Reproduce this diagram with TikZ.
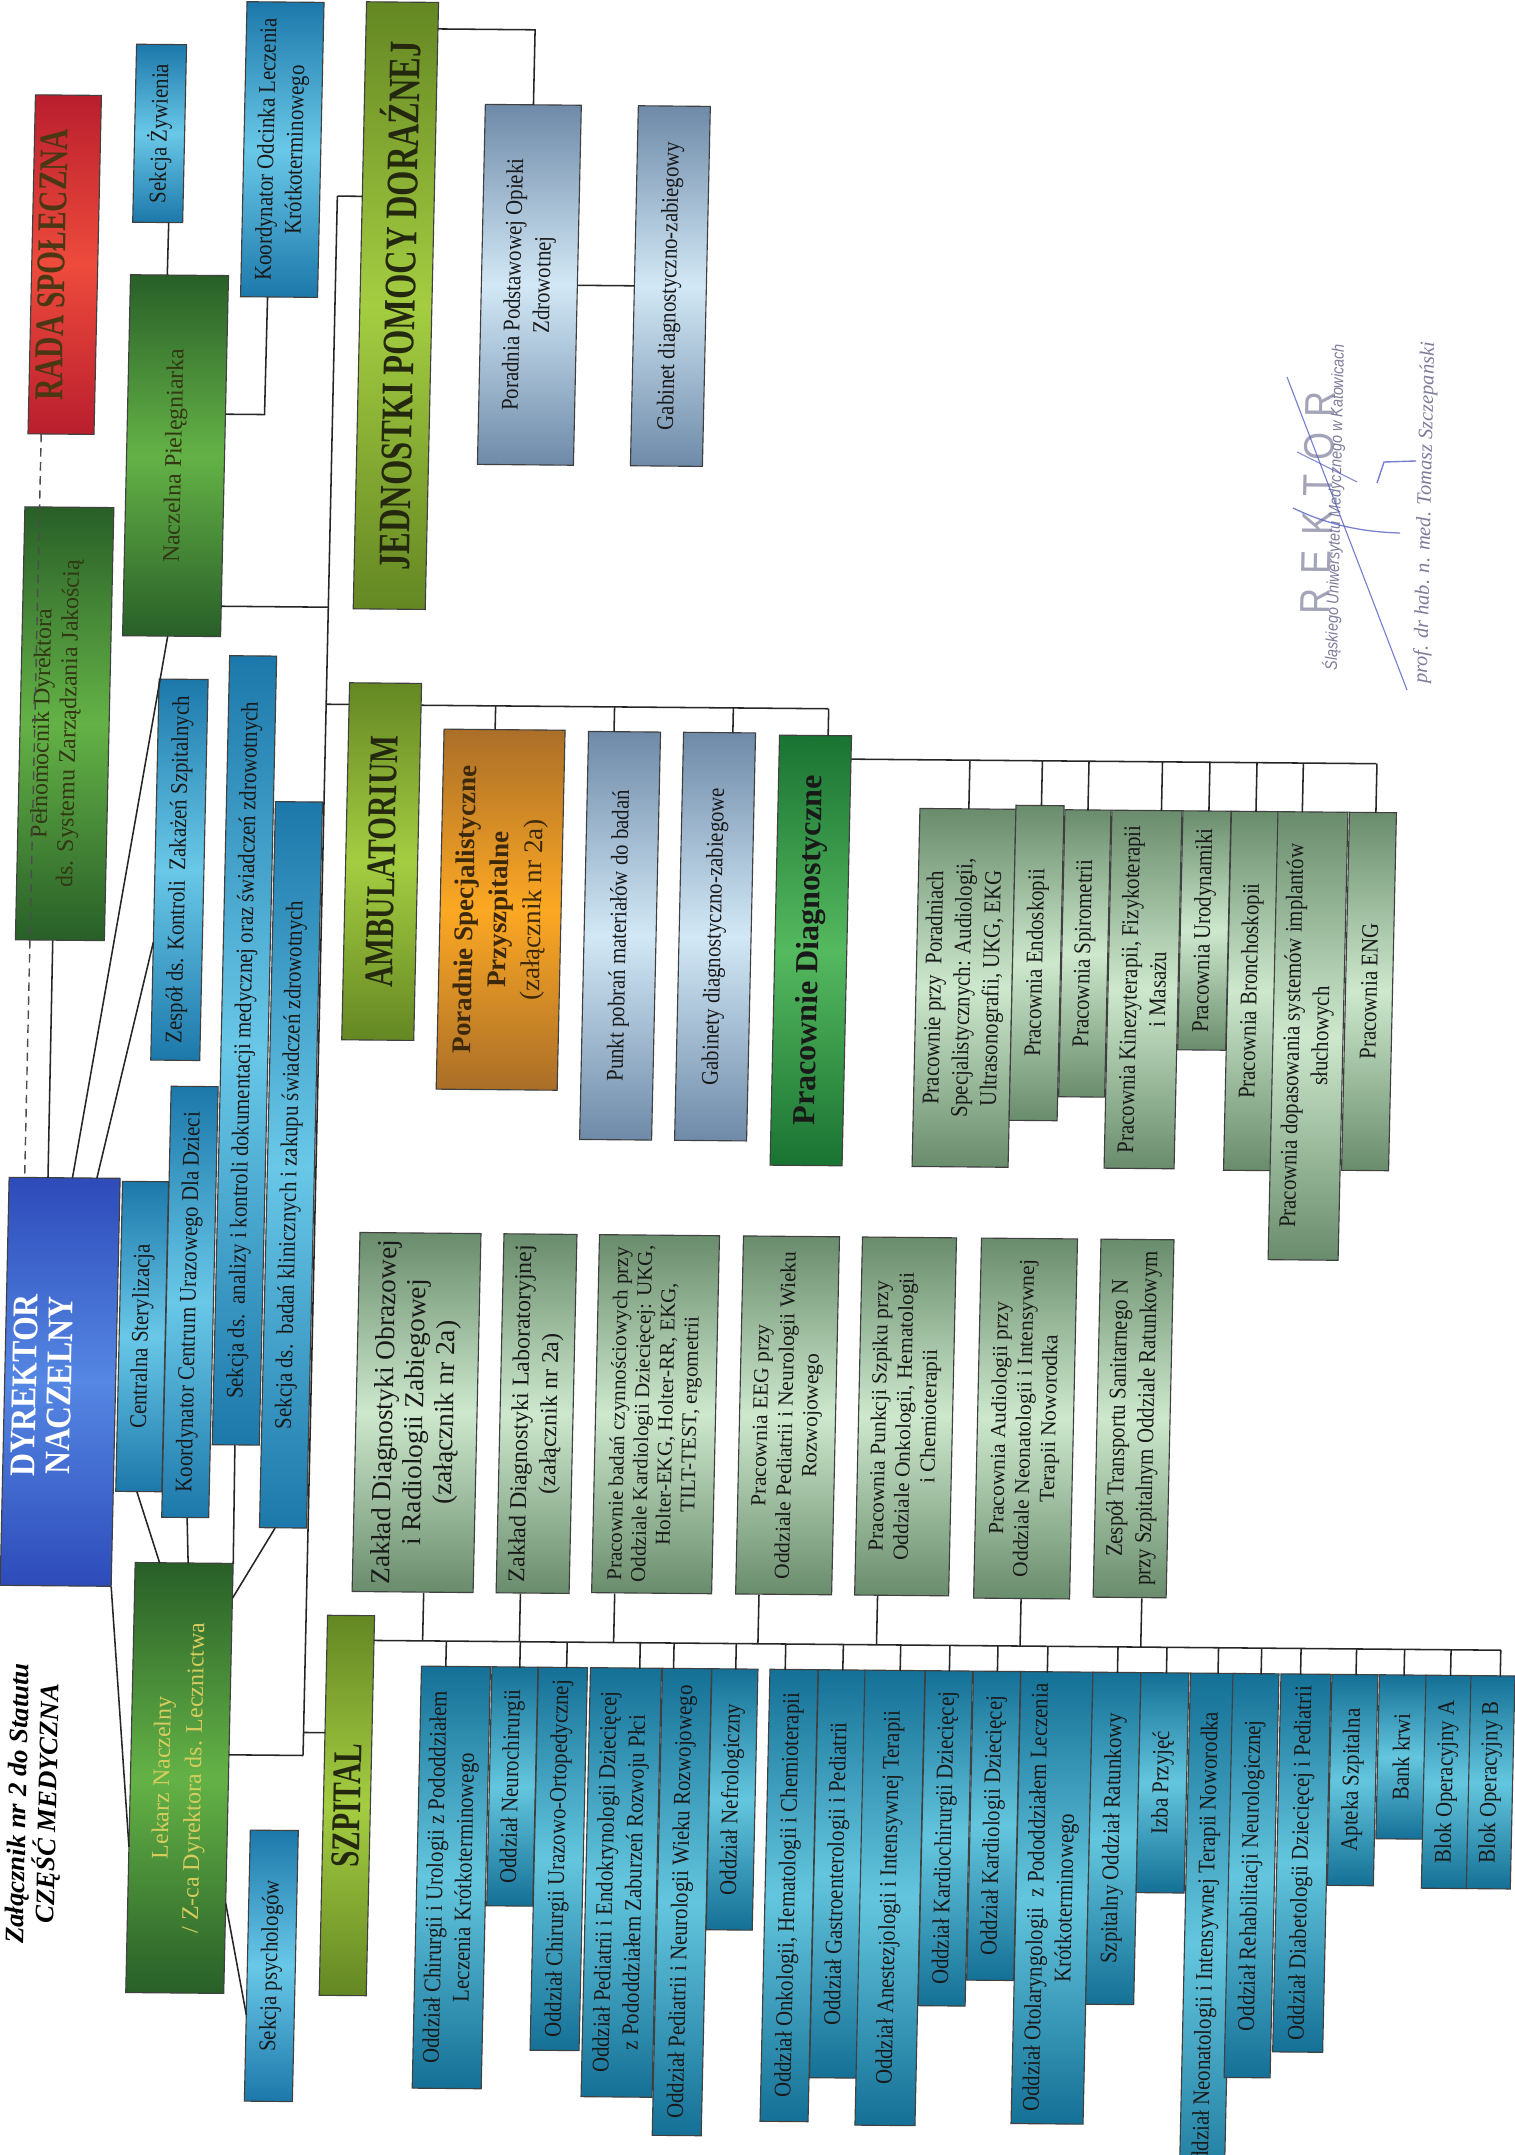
\documentclass[tikz,border=0pt]{standalone}
\usepackage{fontspec}
\setmainfont{Liberation Serif}
\newfontfamily\nrw[FakeStretch=0.87]{Liberation Serif}
\newfontfamily\hdf[FakeStretch=0.72]{Liberation Serif}
\newfontfamily\dyf[FakeStretch=0.88]{Liberation Serif}
\newfontfamily\stf[FakeStretch=0.85]{Liberation Sans}
\usetikzlibrary{calc}

\definecolor{blE}{RGB}{20,112,150}
\definecolor{blM}{RGB}{100,198,222}
\definecolor{ubE}{RGB}{28,120,170}
\definecolor{ubM}{RGB}{105,200,232}
\definecolor{lbE}{RGB}{110,138,168}
\definecolor{lbM}{RGB}{210,232,246}
\definecolor{pgE}{RGB}{105,140,108}
\definecolor{pgM}{RGB}{205,232,205}
\definecolor{grE}{RGB}{40,95,40}
\definecolor{grM}{RGB}{100,178,70}
\definecolor{olE}{RGB}{100,135,35}
\definecolor{olM}{RGB}{165,205,65}
\definecolor{pdE}{RGB}{25,115,50}
\definecolor{pdM}{RGB}{85,185,95}
\definecolor{orE}{RGB}{170,110,40}
\definecolor{orM}{RGB}{252,168,35}
\definecolor{rdE}{RGB}{185,30,45}
\definecolor{rdM}{RGB}{238,75,60}
\definecolor{dyE}{RGB}{45,75,185}
\definecolor{dyM}{RGB}{85,135,228}
\definecolor{txD}{RGB}{25,25,25}
\definecolor{txO}{RGB}{50,55,20}
\definecolor{txL}{RGB}{215,205,95}
\definecolor{txH}{RGB}{35,40,15}
\definecolor{txR}{RGB}{75,55,20}
\definecolor{txB}{RGB}{60,40,10}
\definecolor{stampc}{RGB}{125,125,155}
\definecolor{sigc}{RGB}{85,95,195}

\newcommand\fsn{\fontsize{17}{20.5}\selectfont}
\newcommand\fss{\fontsize{15.3}{17.8}\selectfont}
\newcommand\fsh{\fontsize{29}{32}\selectfont}

\begin{document}
\begin{tikzpicture}[x=0.025cm, y=-0.025cm,
  bx/.style 2 args={minimum width=#2*0.025cm, minimum height=#1*0.025cm},
  base/.style={rotate=90, transform shape, draw=black!75, line width=0.8pt,
    inner sep=0pt, outer sep=0pt, align=center, text=txD},
  shd/.style 2 args={top color=#1, bottom color=#1, middle color=#2},
  blu/.style={base, shd={blE}{blM}, font=\nrw\fsn},
  ublu/.style={base, shd={ubE}{ubM}, font=\nrw\fsn},
  lblu/.style={base, shd={lbE}{lbM}, font=\nrw\fontsize{17}{21}\selectfont},
  pgrn/.style={base, shd={pgE}{pgM}, font=\fsn},
  pgrnN/.style={base, shd={pgE}{pgM}, font=\nrw\fsn},
  grn/.style={base, shd={grE}{grM}, font=\fsn, text=txO},
  oli/.style={base, shd={olE}{olM}, font=\hdf\bfseries\fsh, text=txH},
  plain/.style={rotate=90, transform shape, align=center, inner sep=0pt},
  conn/.style={draw=black!85, line width=1.1pt},
  dashline/.style={draw=black!70, line width=1pt, dash pattern=on 6pt off 4pt}
]
\useasboundingbox (0,0) rectangle (1514,2155);
\fill[white] (0,0) rectangle (1514,2155);

\begin{scope}[cm={1,-0.009,0.022,1,(0.592cm,0.170cm)}]
% ---------- upper part ----------
\node[base, shd={rdE}{rdM}, bx={66}{339}] (rada) at (47,271) {};
\node[plain, font=\hdf\bfseries\fsh, text=txR] (radat) at (34,271) {RADA SPOŁECZNA};
\node[ublu, bx={50}{178}] (zyw) at (139,139) {Sekcja Żywienia};
\node[ublu, bx={77}{295}] (kod) at (262,154) {Koordynator Odcinka Leczenia\\Krótkoterminowego};
\node[oli, bx={72}{607}, font=\hdf\bfseries\fontsize{32}{34}\selectfont] (jed) at (379,309) {JEDNOSTKI POMOCY DORAŹNEJ};
\node[grn, bx={98}{361}] (nacz) at (162,461) {Naczelna Pielęgniarka};
\node[grn, bx={89}{433}] (pel) at (57,730) {};
\node[plain, font=\fontsize{17}{19}\selectfont, text=txO] (pelt) at (49,730) {Pełnomocnik Dyrektora\\ds. Systemu Zarządzania Jakością};
\node[lblu, bx={96}{360}] (por) at (512,287) {Poradnia Podstawowej Opieki\\Zdrowotnej};
\node[lblu, bx={72}{360}] (gab) at (653,287) {Gabinet diagnostyczno-zabiegowy};

% ---------- director cluster ----------
\node[base, shd={dyE}{dyM}, bx={111}{408}] (dyr) at (67,1388) {};
\node[plain, text=white, font=\dyf\bfseries\fontsize{25.6}{25}\selectfont] (dyrt) at (49,1392) {DYREKTOR\\NACZELNY};
\node[ublu, bx={46}{310}] (cst) at (148,1342) {Centralna Sterylizacja};
\node[ublu, bx={47}{431}] (kcu) at (195,1307) {Koordynator Centrum Urazowego Dla Dzieci};
\node[ublu, bx={49}{381}] (zes) at (175,875) {Zespół ds. Kontroli\ \ Zakażeń Szpitalnych};
\node[ublu, bx={47}{789}] (san) at (244,1055) {Sekcja ds.\ \ analizy i kontroli dokumentacji medycznej oraz świadczeń zdrowotnych};
\node[ublu, bx={47}{726}] (sbk) at (293,1169) {Sekcja ds.\ \ badań klinicznych i zakupu świadczeń zdrowotnych};
\node[grn, bx={98}{430}, text=txL, font=\fontsize{17}{22.5}\selectfont] (lek) at (195,1783) {Lekarz Naczelny\\/ Z-ca Dyrektora ds. Lecznictwa};
\node[ublu, bx={48}{271}] (psy) at (291,1970) {Sekcja psychologów};
\node[plain, font=\bfseries\itshape\fontsize{19}{21.5}\selectfont] (title) at (51,1810) {Załącznik nr 2 do Statutu\\CZĘŚĆ MEDYCZNA};

% ---------- ambulatorium ----------
\node[oli, bx={72}{357}] (amb) at (377,865) {AMBULATORIUM};
\node[base, shd={orE}{orM}, bx={121}{360}, text=txB, font=\bfseries\fontsize{19.2}{24}\selectfont] (pss) at (497,912) {Poradnie Specjalistyczne\\Przyszpitalne\\{\mdseries (załącznik nr 2a)}};
\node[lblu, bx={72}{408}] (pkt) at (617,937) {Punkt pobrań materiałów do badań};
\node[lblu, bx={72}{408}] (gbs) at (712,937) {Gabinety diagnostyczno-zabiegowe};
\node[base, shd={pdE}{pdM}, bx={72}{430}, font=\bfseries\fontsize{22.8}{25}\selectfont] (prd) at (808,950) {Pracownie Diagnostyczne};

\node[pgrnN, bx={96}{358}, anchor=east] (p1) at (962,807) {Pracownie przy\ \ Poradniach\\Specjalistycznych: Audiologii,\\Ultrasonografii, UKG, EKG};
\node[pgrnN, bx={48}{315}, anchor=east] (p2) at (1034,803) {Pracownia Endoskopii};
\node[pgrnN, bx={46}{287}, anchor=east] (p3) at (1082,807) {Pracownia Spirometrii};
\node[pgrnN, bx={70}{358}, anchor=east] (p4) at (1141,807) {Pracownia Kinezyterapii, Fizykoterapii\\i Masażu};
\node[pgrnN, bx={48}{239}, anchor=east] (p5) at (1201,807) {Pracownia Urodynamiki};
\node[pgrnN, bx={47}{359}, anchor=east] (p6) at (1249,807) {Pracownia Bronchoskopii};
\node[pgrnN, bx={70}{448}, anchor=east] (p7) at (1307,807) {Pracownia dopasowania systemów implantów\\słuchowych};
\node[pgrnN, bx={47}{358}, anchor=east] (p8) at (1367,807) {Pracownia ENG};

% ---------- szpital ----------
\node[oli, bx={47}{380}] (szp) at (363,1809) {SZPITAL};
\node[pgrn, bx={121}{359}, anchor=east, font=\fontsize{19.5}{21.5}\selectfont] (g1) at (424,1236) {Zakład Diagnostyki Obrazowej\\i Radiologii Zabiegowej\\(załącznik nr 2a)};
\node[pgrn, bx={73}{359}, anchor=east] (g2) at (544,1236) {Zakład Diagnostyki Laboratoryjnej\\(załącznik nr 2a)};
\node[pgrn, bx={120}{358}, anchor=east, font=\fontsize{15}{17}\selectfont] (g3) at (663,1236) {Pracownie badań czynnościowych przy\\Oddziale Kardiologii Dziecięcej: UKG,\\Holter-EKG, Holter-RR, EKG,\\TILT-TEST, ergometrii};
\node[pgrn, bx={96}{358}, anchor=east, font=\fss] (g4) at (795,1236) {Pracownia EEG przy\\Oddziale Pediatrii i Neurologii Wieku\\Rozwojowego};
\node[pgrn, bx={94}{358}, anchor=east, font=\fss] (g5) at (913,1236) {Pracownia Punkcji Szpiku przy\\Oddziale Onkologii, Hematologii\\i Chemioterapii};
\node[pgrn, bx={96}{360}, anchor=east, font=\fss] (g6) at (1033,1236) {Pracownia Audiologii przy\\Oddziale Neonatologii i Intensywnej\\Terapii Noworodka};
\node[pgrnN, bx={73}{358}, anchor=east] (g7) at (1141,1236) {Zespół Transportu Sanitarnego N\\przy Szpitalnym Oddziale Ratunkowym};

\node[blu, bx={69}{422}, anchor=east] (b1) at (469,1669) {Oddział Chirurgii i Urologii z Pododdziałem\\Leczenia Krótkoterminowego};
\node[blu, bx={46}{239}, anchor=east] (b2) at (528,1669) {Oddział Neurochirurgii};
\node[blu, bx={49}{383}, anchor=east] (b3) at (576,1669) {Oddział Chirurgii Urazowo-Ortopedycznej};
\node[blu, bx={71}{429}, anchor=east] (b4) at (639,1669) {Oddział Pediatrii i Endokrynologii Dziecięcej\\z Pododdziałem Zaburzeń Rozwoju Płci};
\node[blu, bx={49}{467}, anchor=east] (b5) at (700,1669) {Oddział Pediatrii i Neurologii Wieku Rozwojowego};
\node[blu, bx={46}{261}, anchor=east] (b6) at (748,1669) {Oddział Nefrologiczny};
\node[blu, bx={48}{452}, anchor=east] (b7) at (807,1669) {Oddział Onkologii, Hematologii i Chemioterapii};
\node[blu, bx={47}{408}, anchor=east] (b8) at (855,1669) {Oddział Gastroenterologii i Pediatrii};
\node[blu, bx={60}{455}, anchor=east] (b9) at (908,1669) {Oddział Anestezjologii i Intensywnej Terapii};
\node[blu, bx={47}{335}, anchor=east] (b10) at (962,1669) {Oddział Kardiochirurgii Dziecięcej};
\node[blu, bx={47}{309}, anchor=east] (b11) at (1010,1669) {Oddział Kardiologii Dziecięcej};
\node[blu, bx={72}{452}, anchor=east] (b12) at (1070,1669) {Oddział Otolaryngologii\ \ z Pododdziałem Leczenia\\Krótkoterminowego};
\node[blu, bx={48}{332}, anchor=east] (b13) at (1130,1669) {Szpitalny Oddział Ratunkowy};
\node[blu, bx={48}{220}, anchor=east] (b14) at (1178,1669) {Izba Przyjęć};
\node[blu, bx={45}{542}, anchor=east] (b15) at (1226,1669) {Oddział Neonatologii i Intensywnej Terapii Noworodka};
\node[blu, bx={46}{404}, anchor=east] (b16) at (1269,1669) {Oddział Rehabilitacji Neurologicznej};
\node[blu, bx={50}{378}, anchor=east] (b17) at (1319,1669) {Oddział Diabetologii Dziecięcej i Pediatrii};
\node[blu, bx={46}{211}, anchor=east] (b18) at (1368,1669) {Apteka Szpitalna};
\node[blu, bx={47}{164}, anchor=east] (b19) at (1416,1669) {Bank krwi};
\node[blu, bx={46}{213}, anchor=east] (b20) at (1462,1669) {Blok Operacyjny A};
\node[blu, bx={44}{213}, anchor=east] (b21) at (1506,1669) {Blok Operacyjny B};

% ---------- stamp ----------
\node[plain, text=stampc!70, font=\stf\fontsize{30}{32}\selectfont] (rek) at (1305,498) {R\hspace{0.35em}E\hspace{0.35em}K\hspace{0.35em}T\hspace{0.35em}O\hspace{0.35em}R};
\node[plain, text=stampc, font=\stf\itshape\fontsize{12}{14}\selectfont] (uni) at (1322,502) {Śląskiego Uniwersytetu Medycznego w Katowicach};
\node[plain, text=stampc, font=\itshape\fontsize{14.5}{16}\selectfont] (prof) at (1413,507) {prof. dr hab. n. med. Tomasz Szczepański};

% ---------- connectors ----------
\coordinate (tTop) at (318,200);
\coordinate (tN) at (318,611);
\coordinate (tA) at (318,708);
\coordinate (tS) at (318,1736);
\coordinate (tBot) at (318,1759);
\draw[conn] (tTop) -- (tBot);
\draw[conn] (tTop) -- ($(jed.north west)!(tTop)!(jed.north east)$);
\draw[conn] (tN) -- ($(nacz.south west)!(tN)!(nacz.south east)$);
\draw[conn] (tA) -- ($(amb.north west)!(tA)!(amb.north east)$);
\draw[conn] (tS) -- ($(szp.north west)!(tS)!(szp.north east)$);
\draw[conn] (tBot) -- ($(lek.south west)!(tBot)!(lek.south east)$);

\coordinate (jp) at (512,32);
\draw[conn] ($(jed.south west)!(jp)!(jed.south east)$) -- (jp) -- (por.east);
\draw[conn] (por.south) -- (gab.north);

\coordinate (kc) at (250,419);
\draw[conn] ($(kod.north west)!0.35!(kod.south west)$) -- (kc) -- ($(nacz.south west)!(kc)!(nacz.south east)$);
\draw[conn] ($(zyw.north west)!0.72!(zyw.south west)$) -- ($(nacz.north east)!0.375!(nacz.south east)$);

\draw[dashline] ($(rada.north west)!0.2!(rada.south west)$) -- ($(dyr.north east)!0.14!(dyr.south east)$);
\draw[conn] ($(pel.north west)!0.42!(pel.south west)$) -- ($(dyr.north east)!0.35!(dyr.south east)$);
\draw[conn] ($(dyr.north east)!0.57!(dyr.south east)$) -- ($(nacz.north west)!0.46!(nacz.south west)$);
\draw[conn] ($(dyr.north east)!0.79!(dyr.south east)$) -- ($(zes.north west)!0.31!(zes.north east)$);
\draw[conn] (dyr.south west) -- ($(lek.north west)!0.34!(lek.north east)$);
\draw[conn] ($(cst.north west)!0.46!(cst.south west)$) -- ($(lek.north east)!0.25!(lek.south east)$);
\draw[conn] ($(kcu.north west)!0.54!(kcu.south west)$) -- ($(lek.north east)!0.54!(lek.south east)$);
\draw[conn] ($(san.north west)!0.48!(san.south west)$) -- (lek.south east);
\draw[conn] ($(sbk.north west)!0.33!(sbk.south west)$) -- ($(lek.south west)!0.92!(lek.south east)$);
\draw[conn] ($(lek.south west)!0.21!(lek.south east)$) -- ($(psy.north west)!0.32!(psy.north east)$);

\coordinate (ambR) at (820,708);
\coordinate (ambL) at ($(amb.south west)!(ambR)!(amb.south east)$);
\draw[conn] (ambL) -- (ambR);
\foreach \nd/\fr in {pss/0.42,pkt/0.35,gbs/0.68,prd/0.67}{
  \coordinate (tmp) at ($(\nd.north east)!\fr!(\nd.south east)$);
  \draw[conn] (tmp) -- ($(ambL)!(tmp)!(ambR)$);
}

\coordinate (prR) at (1369,758);
\coordinate (prL) at ($(prd.south west)!(prR)!(prd.south east)$);
\draw[conn] (prL) -- (prR);
\foreach \nd/\fr in {p1/0.505,p2/0.52,p3/0.49,p4/0.7,p5/0.53,p6/0.51,p7/0.34,p8/0.55}{
  \coordinate (tmp) at ($(\nd.north east)!\fr!(\nd.south east)$);
  \draw[conn] (tmp) -- ($(prL)!(tmp)!(prR)$);
}

\coordinate (busR) at (1513,1643);
\coordinate (busL) at ($(szp.south west)!(busR)!(szp.south east)$);
\draw[conn] (busL) -- (busR);
\foreach \nd/\fr in {g1/0.59,g2/0.33,g3/0.19,g4/0.24,g5/0.24,g6/0.49,g7/0.66}{
  \coordinate (tmp) at ($(\nd.north west)!\fr!(\nd.south west)$);
  \draw[conn] (tmp) -- ($(busL)!(tmp)!(busR)$);
}
\foreach \nd/\fr in {b1/0.35,b2/0.6,b3/0.57,b4/0.69,b5/0.22,b6/0.51,b7/0.31,b8/0.51,b9/0.58,b10/0.5,b11/0.5,b12/0.36,b13/0.5,b14/0.52,b15/0.6,b16/0.6,b17/0.38,b18/0.51,b19/0.51,b20/0.52,b21/0.65}{
  \coordinate (tmp) at ($(\nd.north east)!\fr!(\nd.south east)$);
  \draw[conn] (tmp) -- ($(busL)!(tmp)!(busR)$);
}
\end{scope}

% ---------- signature strokes (raw page coordinates) ----------
\draw[sigc, line width=0.8pt, opacity=0.8] (1287,377) -- (1407,690);
\draw[sigc, line width=0.9pt, opacity=0.8] (1293,508) .. controls (1330,526) and (1365,532) .. (1400,533);
\draw[sigc, line width=0.8pt, opacity=0.7] (1297,452) -- (1357,482);
\draw[sigc, line width=1pt, opacity=0.8] (1377,483) -- (1384,462) -- (1416,461);
\end{tikzpicture}
\end{document}
